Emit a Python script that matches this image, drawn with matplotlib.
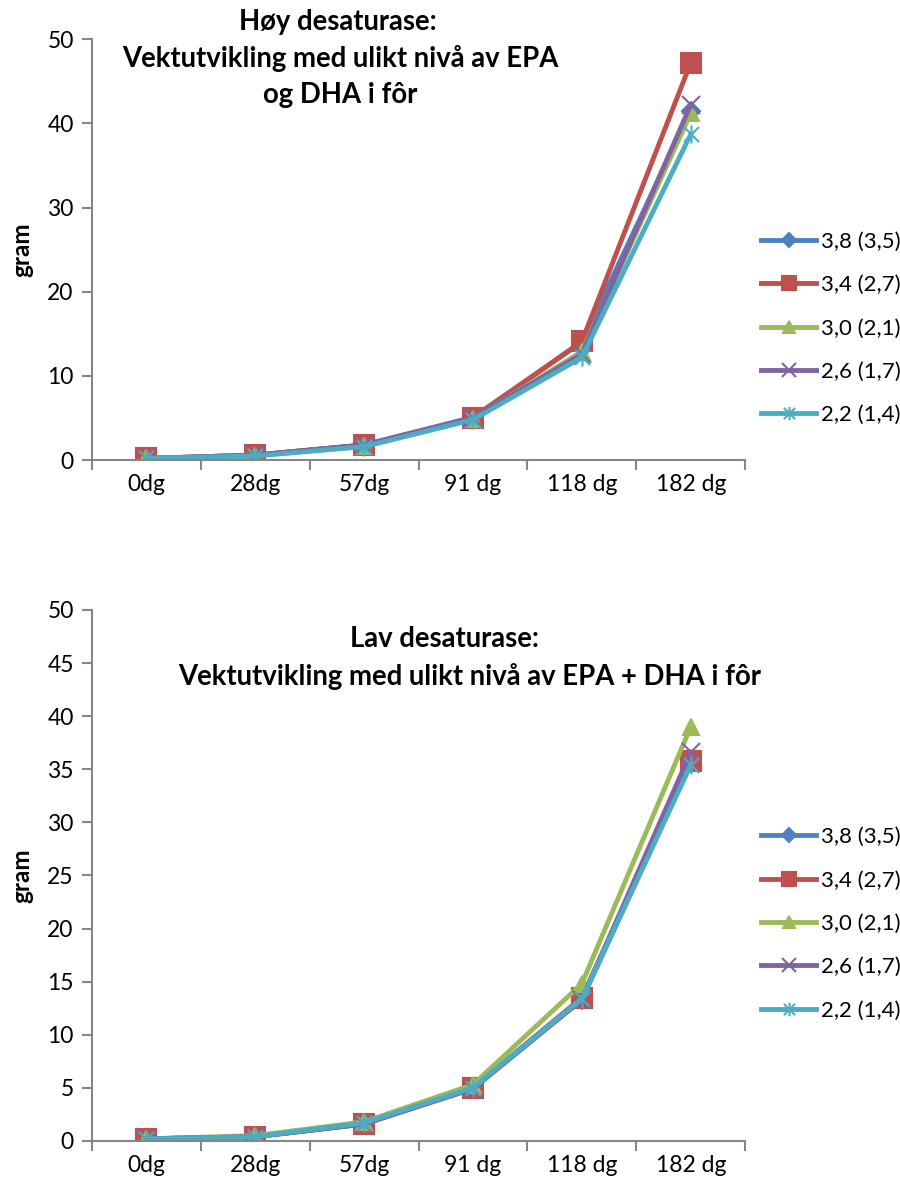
import matplotlib.pyplot as plt
from matplotlib.path import Path

days = ["0dg", "28dg", "57dg", "91 dg", "118 dg", "182 dg"]
series_names = ["3,8 (3,5)", "3,4 (2,7)", "3,0 (2,1)", "2,6 (1,7)", "2,2 (1,4)"]

# Høy desaturase
high_38 = [0.2, 0.6, 1.8, 5.1, 14.0, 41.5]
high_34 = [0.2, 0.6, 1.8, 5.0, 14.1, 47.2]
high_30 = [0.2, 0.5, 1.7, 4.9, 12.9, 41.2]
high_26 = [0.2, 0.6, 1.8, 5.0, 12.6, 42.2]
high_22 = [0.2, 0.5, 1.6, 4.8, 12.2, 38.7]

# Lav desaturase
low_38 = [0.2, 0.4, 1.6, 5.0, 13.3, 35.6]
low_34 = [0.2, 0.4, 1.6, 5.0, 13.5, 35.8]
low_30 = [0.2, 0.5, 1.8, 5.3, 14.8, 39.0]
low_26 = [0.2, 0.4, 1.6, 4.9, 13.3, 36.6]
low_22 = [0.2, 0.4, 1.7, 5.0, 13.4, 35.4]

colors = ["#4F81BD", "#C0504D", "#9BBB59", "#8064A2", "#4BACC6"]

# Excel-style star: x with a vertical bar
star = Path(
    [(-1, -1), (1, 1), (-1, 1), (1, -1), (0, -1.2), (0, 1.2)],
    [Path.MOVETO, Path.LINETO, Path.MOVETO, Path.LINETO, Path.MOVETO, Path.LINETO],
)
markers = ["D", "s", "^", "x", star]
msizes = [9, 14, 12, 13, 13]

plt.rcParams["font.family"] = ["Lato", "DejaVu Sans"]
axis_grey = "#868686"

fig = plt.figure(figsize=(9, 11.89), dpi=100)
ax_top = fig.add_axes([0.102, 0.613, 0.726, 0.354])
ax_bot = fig.add_axes([0.102, 0.0404, 0.726, 0.4466])


def draw(ax, data, ymax, ystep, legend_y):
    x = list(range(len(days)))
    for vals, name, c, m, ms in zip(data, series_names, colors, markers, msizes):
        ax.plot(x, vals, color=c, linewidth=3.5, marker=m, markersize=ms,
                markeredgecolor=c, markeredgewidth=1.5, label=name)
    ax.set_xlim(-0.5, len(days) - 0.5)
    ax.set_ylim(0, ymax)
    ax.set_yticks(range(0, ymax + 1, ystep))
    ax.set_xticks(x)
    ax.set_xticklabels(days)
    ax.set_xticks([i - 0.5 for i in range(len(days) + 1)], minor=True)
    ax.tick_params(axis="x", which="major", length=0, pad=10, labelsize=16.5)
    ax.tick_params(axis="x", which="minor", length=7, color=axis_grey, width=1.5)
    ax.tick_params(axis="y", length=7, color=axis_grey, width=1.5, labelsize=16.5, pad=6)
    for side in ["top", "right"]:
        ax.spines[side].set_visible(False)
    for side in ["left", "bottom"]:
        ax.spines[side].set_color(axis_grey)
        ax.spines[side].set_linewidth(1.5)
    ax.set_ylabel("gram", fontsize=17.5, fontweight="bold", labelpad=10)
    ax.legend(loc="center left", bbox_to_anchor=(1.0, legend_y), frameon=False,
              fontsize=16, handlelength=2.5, labelspacing=1.05, handletextpad=0.2,
              borderaxespad=0.3, markerscale=0.75)


def title_line(text, x_px, y_px):
    fig.text(x_px / 900, 1 - y_px / 1189, text, ha="center", va="center",
             fontsize=19.8, fontweight="bold")


draw(ax_top, [high_38, high_34, high_30, high_26, high_22], 50, 10, 0.313)
draw(ax_bot, [low_38, low_34, low_30, low_26, low_22], 50, 5, 0.409)

title_line("Høy desaturase:", 338, 22)
title_line("Vektutvikling med ulikt nivå av EPA", 340, 59)
title_line("og DHA i fôr", 340, 95)
title_line("Lav desaturase:", 445, 639)
title_line("Vektutvikling med ulikt nivå av EPA + DHA i fôr", 470, 676)

fig.savefig("out.png", dpi=100)
